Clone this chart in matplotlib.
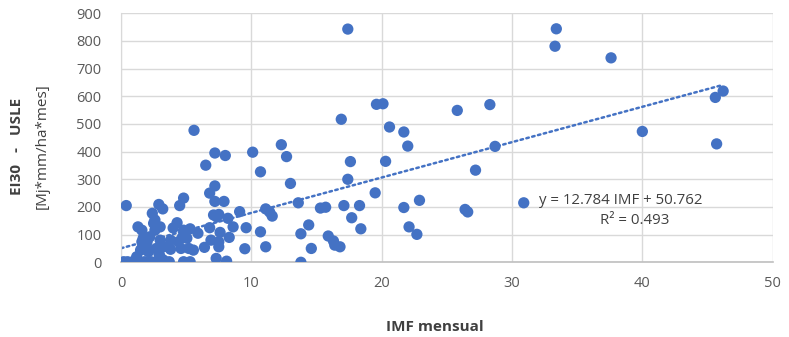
import matplotlib.pyplot as plt
import numpy as np

plt.rcParams["font.family"] = ["Open Sans", "DejaVu Sans"]

# monthly IMF vs EI30 (USLE) pairs
imf = [
    17.4, 33.4, 33.3, 37.6, 40.0, 46.2, 45.6, 45.7, 30.9,
    16.9, 19.6, 20.1, 20.6, 21.7, 22.0, 25.8, 28.3, 28.7, 27.2,
    17.6, 17.4, 20.3, 19.5, 17.1, 18.3, 17.7, 18.4, 21.7, 22.9, 22.1, 22.7, 26.4, 26.6,
    15.9, 16.3, 16.4, 16.8,
    12.3, 12.7, 10.7, 13.0, 11.1, 11.4, 11.6, 13.6, 10.7, 11.1, 13.8, 14.4, 14.6, 13.8, 15.3, 15.7,
    5.6, 7.2, 8.0, 10.1, 6.5, 7.2, 6.8, 7.2, 7.9, 4.5, 4.8, 0.4, 2.9, 3.2, 9.1,
    7.1, 7.5, 7.35, 8.2, 8.6, 9.6, 9.5, 6.4, 7.5, 7.3, 8.1, 4.8, 6.9, 7.6, 8.3, 7.5,
    5.9, 5.3, 6.8, 5.2, 4.6, 5.55, 4.0, 4.3, 4.7, 3.8, 3.25, 2.9, 5.3,
    1.3, 1.6, 1.7, 1.6, 2.0, 1.2, 2.4, 2.6, 2.6, 3.0, 2.2, 3.0, 2.7, 3.25, 3.0, 3.8,
    2.5, 4.8, 1.6, 2.0, 4.4, 5.05, 1.5, 2.1, 2.9,
    0.2, 0.5, 0.9, 1.3, 1.8, 2.3, 2.7, 3.7,
]
ei30 = [
    843, 844, 781, 739, 473, 619, 596, 428, 215,
    517, 571, 573, 489, 471, 420, 549, 570, 419, 333,
    364, 300, 365, 251, 205, 205, 161, 121, 198, 224, 128, 101, 191, 182,
    95, 77, 62, 56,
    425, 382, 327, 285, 193, 182, 167, 215, 110, 56, 103, 135, 50, 0, 196, 199,
    477, 395, 386, 398, 351, 276, 250, 220, 220, 205, 232, 205, 209, 193, 183,
    171, 173, 164, 159, 128, 125, 49, 54, 56, 14, 4, 2, 80, 108, 90, 74,
    105, 121, 125, 50, 50, 44, 124, 143, 90, 47, 8, 2, 2,
    128, 116, 87, 50, 50, 20, 177, 153, 116, 128, 92, 80, 50, 56, 20, 80,
    141, 116, 74, 74, 74, 87, 44, 38, 32,
    2, 2, 2, 2, 2, 2, 2, 2,
]

slope = 12.784
intercept = 50.762
r2 = 0.493

blue = "#4472C4"
grid = "#d9d9d9"
txt = "#595959"
dark = "#404040"

fig = plt.figure(figsize=(7.89, 3.37), dpi=100)
ax = fig.add_axes([0.1534, 0.2217, 0.8259, 0.7388])

ax.scatter(imf, ei30, s=66, color=blue, edgecolors="none", zorder=3)

# linear trend drawn from the fitted coefficients
xt = np.linspace(0, max(imf), 200)
ax.plot(xt, slope * xt + intercept, linestyle=(0, (1, 1.4)), color=blue,
        linewidth=1.8, dash_capstyle="round", zorder=2)

ax.set_xlim(0, 50)
ax.set_ylim(0, 900)
ax.set_xticks(np.arange(0, 51, 10))
ax.set_yticks(np.arange(0, 901, 100))
ax.grid(True, color=grid, linewidth=1.0, zorder=0)
ax.set_axisbelow(True)
for side in ["top", "right"]:
    ax.spines[side].set_visible(False)
ax.spines["left"].set_color(grid)
ax.spines["bottom"].set_color("#bfbfbf")
ax.spines["bottom"].set_linewidth(1.2)
ax.tick_params(length=0, labelsize=10.5, colors=txt)
ax.tick_params(axis="y", pad=14)
ax.tick_params(axis="x", pad=10)

ax.text(32.1, 225, f"y = {slope} IMF + {intercept}", fontsize=10.8,
        color=dark, va="center", ha="left")
ax.text(39.4, 150, f"R² = {r2}", fontsize=10.8, color=dark,
        va="center", ha="center")

fig.text(0.551, 0.03, "IMF mensual", fontsize=11, fontweight="bold",
         color=dark, ha="center", va="center")
fig.text(0.022, 0.565, "EI30   -   USLE", rotation=90, fontsize=11,
         fontweight="bold", color=dark, ha="center", va="center")
fig.text(0.054, 0.565, "[Mj*mm/ha*mes]", rotation=90, fontsize=11,
         color=dark, ha="center", va="center")

fig.savefig("out.png", dpi=100)
